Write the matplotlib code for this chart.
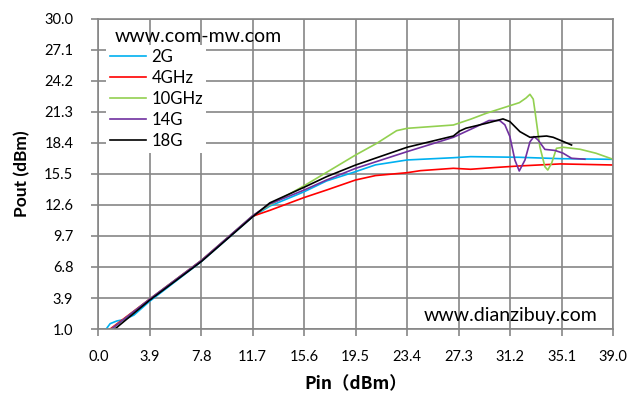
import numpy as np
import matplotlib.pyplot as plt

# Pin (dBm) / Pout (dBm)
x_2g = [0.6, 0.9, 1.4, 2.0, 2.7, 3.9, 7.8, 11.7, 13.0, 15.6, 17.3, 19.5, 21.0, 23.4, 26.9, 28.2, 31.9, 35.0, 39.0]
y_2g = [1.0, 1.5, 1.75, 1.9, 2.3, 3.6, 7.3, 11.5, 12.5, 13.84, 14.85, 15.72, 16.35, 16.81, 17.02, 17.12, 17.06, 16.93, 16.87]

x_4g = [0.9, 3.9, 7.8, 11.7, 13.0, 15.6, 17.3, 19.5, 21.0, 23.4, 24.4, 26.9, 28.2, 30.0, 31.9, 35.0, 39.0]
y_4g = [1.0, 3.8, 7.4, 11.55, 12.1, 13.3, 14.0, 14.94, 15.35, 15.62, 15.81, 16.03, 15.94, 16.1, 16.25, 16.44, 16.34]

x_10g = [1.0, 3.9, 7.8, 11.7, 13.0, 15.6, 19.5, 21.1, 22.6, 23.4, 26.9, 28.2, 29.4, 31.9, 32.4, 32.7, 32.95, 33.1,
         33.45, 33.83, 34.05, 34.34, 34.71, 35.2, 36.5, 37.7, 39.0]
y_10g = [1.0, 3.8, 7.4, 11.6, 12.6, 14.4, 17.28, 18.37, 19.55, 19.77, 20.08, 20.62, 21.18, 22.17, 22.6, 22.95, 22.5, 21.2,
         18.05, 16.18, 15.87, 16.5, 17.9, 18.0, 17.81, 17.44, 16.87]

x_14g = [1.0, 3.9, 7.8, 11.7, 13.0, 15.6, 17.3, 19.5, 23.4, 26.9, 28.6, 29.6, 30.4, 30.8, 31.18, 31.56, 31.89,
         32.32, 32.7, 33.0, 33.3, 33.83, 34.6, 35.2, 35.85, 36.86]
y_14g = [1.0, 3.8, 7.4, 11.6, 12.7, 14.0, 14.94, 16.03, 17.59, 18.93, 19.9, 20.5, 20.5, 20.1, 19.0, 16.8, 15.78,
         16.8, 18.5, 19.0, 18.7, 17.8, 17.7, 17.45, 16.97, 16.88]

x_18g = [1.26, 3.9, 7.8, 11.7, 13.0, 15.6, 17.3, 19.5, 23.4, 26.9, 27.35, 27.85, 29.4, 30.66, 31.18, 31.94, 32.7,
         33.96, 34.46, 35.85]
y_18g = [1.0, 3.7, 7.3, 11.5, 12.8, 14.26, 15.25, 16.34, 18.0, 19.05, 19.5, 19.78, 20.24, 20.65, 20.4, 19.46, 18.93,
         19.05, 18.93, 18.21]

labels = ["2G", "4GHz", "10GHz", "14G", "18G"]
colors = ["#00B0F0", "#FF0000", "#92D050", "#7030A0", "#000000"]
xs = [x_2g, x_4g, x_10g, x_14g, x_18g]
ys = [y_2g, y_4g, y_10g, y_14g, y_18g]

xticks = np.round(np.arange(0, 39.01, 3.9), 1)
yticks = np.round(np.arange(1.0, 30.01, 2.9), 1)

plt.rcParams['font.family'] = ['Lato', 'DejaVu Sans']
grid_c = "#868686"

fig = plt.figure(figsize=(6.38, 4.08), dpi=100)
ax = fig.add_axes([0.154, 0.1936, 0.807, 0.76])

for x, y, c, lab in zip(xs, ys, colors, labels):
    ax.plot(x, y, color=c, lw=1.2, label=lab)

ax.set_xlim(0, 39.0)
ax.set_ylim(1.0, 30.0)
ax.set_xticks(xticks)
ax.set_yticks(yticks)
ax.set_xticklabels([f"{v:.1f}" for v in xticks], fontsize=10.5)
ax.set_yticklabels([f"{v:.1f}" for v in yticks], fontsize=10.5)
ax.grid(True, color=grid_c, lw=1.2)
ax.set_axisbelow(True)
for s in ax.spines.values():
    s.set_color(grid_c)
    s.set_linewidth(1.2)
ax.tick_params(axis="both", direction="out", length=5, color=grid_c, width=1.2)
ax.tick_params(axis="x", pad=10)
ax.tick_params(axis="y", pad=13)

ax.set_xlabel("Pin（dBm）", family=["Noto Sans CJK SC", "DejaVu Sans"], fontsize=12.5,
              fontweight="bold", labelpad=8)
ax.set_ylabel("Pout (dBm)", fontsize=12.5, fontweight="bold", labelpad=10)

leg = ax.legend(loc="upper left", bbox_to_anchor=(0.016, 0.915), fontsize=12, frameon=True,
                fancybox=False, edgecolor="none", facecolor="white", framealpha=1,
                handlelength=2.2, handletextpad=0.3, labelspacing=0.31, borderpad=0.2,
                borderaxespad=0)

ax.text(0.032, 0.943, "www.com-mw.com", transform=ax.transAxes, fontsize=14, va="center", ha="left")
ax.text(0.632, 0.045, "www.dianzibuy.com", transform=ax.transAxes, fontsize=14, va="center", ha="left")

plt.savefig("out.png", dpi=100)
